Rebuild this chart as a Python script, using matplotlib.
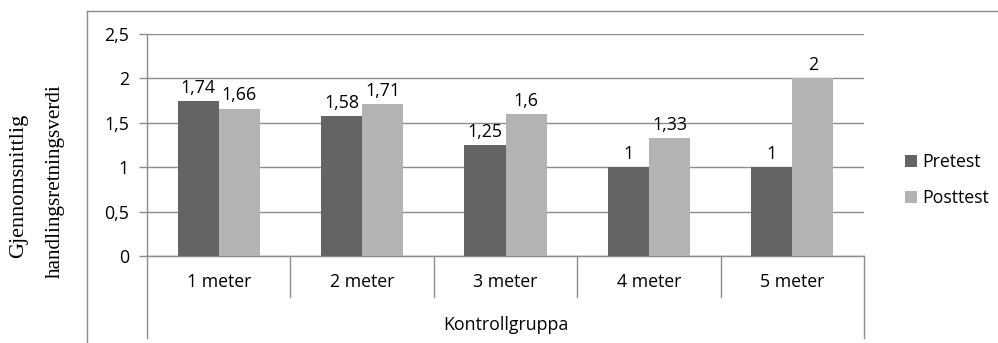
import matplotlib
matplotlib.use("Agg")
import matplotlib.pyplot as plt
from matplotlib.transforms import blended_transform_factory
import numpy as np

categories = ["1 meter", "2 meter", "3 meter", "4 meter", "5 meter"]
pretest = [1.74, 1.58, 1.25, 1.0, 1.0]
posttest = [1.66, 1.71, 1.6, 1.33, 2.0]
pre_labels = ["1,74", "1,58", "1,25", "1", "1"]
post_labels = ["1,66", "1,71", "1,6", "1,33", "2"]
yticks = [0, 0.5, 1, 1.5, 2, 2.5]
ytick_labels = ["0", "0,5", "1", "1,5", "2", "2,5"]
group_label = "Kontrollgruppa"
ylabel_lines = ["Gjennomsnittlig", "handlingsretningsverdi"]

W, H = 998, 343
fig = plt.figure(figsize=(W / 100, H / 100), dpi=100)
FONT = "Open Sans"
FS = 12.8
GRAY = "#8c8c8c"
C_PRE = "#646464"
C_POST = "#b3b3b3"

# plot area in pixels
L, R, T, B = 147, 864, 34, 256
ax = fig.add_axes([L / W, 1 - B / H, (R - L) / W, (B - T) / H])

x = np.arange(len(categories)) + 0.5
bw = 0.286
b1 = ax.bar(x - bw / 2, pretest, bw, color=C_PRE, label="Pretest", zorder=3)
b2 = ax.bar(x + bw / 2, posttest, bw, color=C_POST, label="Posttest", zorder=3)

for rects, labs in ((b1, pre_labels), (b2, post_labels)):
    for r, lab in zip(rects, labs):
        ax.annotate(lab, (r.get_x() + r.get_width() / 2, r.get_height()),
                    xytext=(0, 3), textcoords="offset points", ha="center",
                    va="bottom", fontsize=FS, family=FONT, color="black")

ax.set_xlim(0, len(categories))
ax.set_ylim(0, 2.5)
ax.set_yticks(yticks)
ax.set_yticklabels(ytick_labels, fontsize=FS, family=FONT)
ax.tick_params(axis="y", length=6, color=GRAY, width=1, pad=7)
ax.set_xticks([])
ax.yaxis.grid(True, color=GRAY, linewidth=1)
ax.set_axisbelow(True)
for s in ("top", "right"):
    ax.spines[s].set_visible(False)
for s in ("left", "bottom"):
    ax.spines[s].set_color(GRAY)
    ax.spines[s].set_linewidth(1)

# category separators
tr = blended_transform_factory(ax.transData, ax.transAxes)
px = 1.0 / (B - T)
for i in range(len(categories) + 1):
    depth = (338 - B) if i in (0, len(categories)) else (297 - B)
    ax.plot([i, i], [0, -depth * px], transform=tr, color=GRAY, lw=1,
            clip_on=False)
for xi, c in zip(x, categories):
    ax.text(xi, -(282 - B) * px, c, transform=tr, ha="center", va="center",
            fontsize=FS, family=FONT)
ax.text(len(categories) / 2, -(325 - B) * px, group_label, transform=tr,
        ha="center", va="center", fontsize=FS, family=FONT)

# y label (two lines, serif)
fig.text(19 / W, 1 - 186 / H, ylabel_lines[0], rotation=90, ha="center",
         va="center", fontsize=16, family="Liberation Serif")
fig.text(55 / W, 1 - 181 / H, ylabel_lines[1], rotation=90, ha="center",
         va="center", fontsize=15.2, family="Liberation Serif")

# chart border (top and left only)
fig.add_artist(plt.Line2D([87 / W, 1], [1 - 10.5 / H, 1 - 10.5 / H],
                          transform=fig.transFigure, color=GRAY, lw=1))
fig.add_artist(plt.Line2D([87 / W, 87 / W], [0, 1 - 10.5 / H],
                          transform=fig.transFigure, color=GRAY, lw=1))

leg = ax.legend(handles=[b1, b2], loc="center left",
                bbox_to_anchor=(893 / W, 1 - 180 / H),
                bbox_transform=fig.transFigure, frameon=False,
                handlelength=0.65, handleheight=0.65, handletextpad=0.3,
                labelspacing=1.0, borderpad=0.2,
                prop={"family": FONT, "size": FS})

fig.savefig("out.png", dpi=100)
